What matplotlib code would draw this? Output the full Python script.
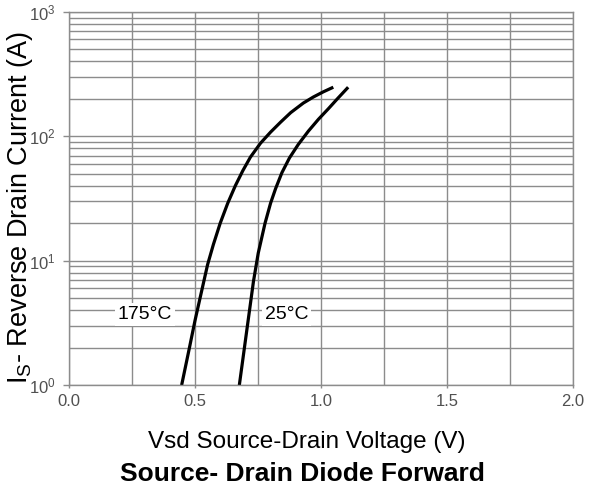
import matplotlib
matplotlib.use('Agg')
import matplotlib.pyplot as plt
from matplotlib.ticker import LogLocator, MultipleLocator, NullFormatter

plt.rcParams['font.family'] = ['Liberation Sans', 'DejaVu Sans']
plt.rcParams['mathtext.fontset'] = 'custom'
plt.rcParams['mathtext.rm'] = 'Liberation Sans'

# forward voltage (V) vs reverse drain current (A)
vsd_175 = [0.447, 0.478, 0.50, 0.52, 0.55, 0.573, 0.60, 0.63, 0.66, 0.69, 0.72,
           0.76, 0.80, 0.84, 0.88, 0.93, 0.97, 1.01, 1.049]
is_175 = [1.0, 2.0, 3.3, 5.0, 9.3, 13.5, 20, 29, 40, 53, 68,
          88, 108, 130, 155, 185, 207, 228, 248]

vsd_25 = [0.676, 0.705, 0.732, 0.751, 0.778, 0.80, 0.82, 0.845, 0.875, 0.91,
          0.95, 0.99, 1.03, 1.065, 1.108]
is_25 = [1.0, 2.7, 6.8, 11.5, 20, 29, 38, 51, 67, 86,
         110, 137, 167, 200, 248]

labels = ['175°C', '25°C']
label_x = [0.3, 0.865]
label_y = [3.7, 3.7]

grid_col = '#8c8c8c'

fig = plt.figure(figsize=(5.9, 4.95), dpi=100)
ax = fig.add_axes([0.117, 0.222, 0.854, 0.754])

for xs, ys in [(vsd_175, is_175), (vsd_25, is_25)]:
    ax.plot(xs, ys, color='black', lw=2.3, solid_joinstyle='round', solid_capstyle='butt')

ax.set_yscale('log')
ax.set_xlim(0, 2.0)
ax.set_ylim(1, 1000)

ax.xaxis.set_major_locator(MultipleLocator(0.5))
ax.xaxis.set_minor_locator(MultipleLocator(0.25))
ax.yaxis.set_major_locator(LogLocator(base=10, numticks=10))
ax.yaxis.set_minor_locator(LogLocator(base=10, subs=range(2, 10), numticks=10))
ax.yaxis.set_minor_formatter(NullFormatter())

ax.grid(which='both', color=grid_col, lw=1.0)
ax.set_axisbelow(True)
for s in ax.spines.values():
    s.set_color(grid_col)
    s.set_linewidth(1.0)

ax.tick_params(which='major', colors=grid_col, labelcolor='#505050', labelsize=12, width=1.0)
ax.tick_params(axis='y', which='major', length=4.5, pad=5)
ax.tick_params(axis='x', which='major', length=2.5, pad=4)
ax.tick_params(which='minor', length=0)

for t, x, y in zip(labels, label_x, label_y):
    ax.text(x, y, t, ha='center', va='center', fontsize=14, color='black',
            bbox=dict(facecolor='white', edgecolor='none', pad=2))

ax.set_ylabel(r'I$_\mathregular{S}$- Reverse Drain Current (A)', fontsize=19.5, va='center')
ax.yaxis.set_label_coords(-0.097, 0.477)
ax.set_xlabel('Vsd Source-Drain Voltage (V)', fontsize=17.5, va='center')
ax.xaxis.set_label_coords(0.472, -0.153)
fig.text(0.512, 1 - 474 / 495, 'Source- Drain Diode Forward', ha='center', va='center',
         fontsize=19, fontweight='bold')

fig.savefig('out.png', dpi=100)
plt.close(fig)
